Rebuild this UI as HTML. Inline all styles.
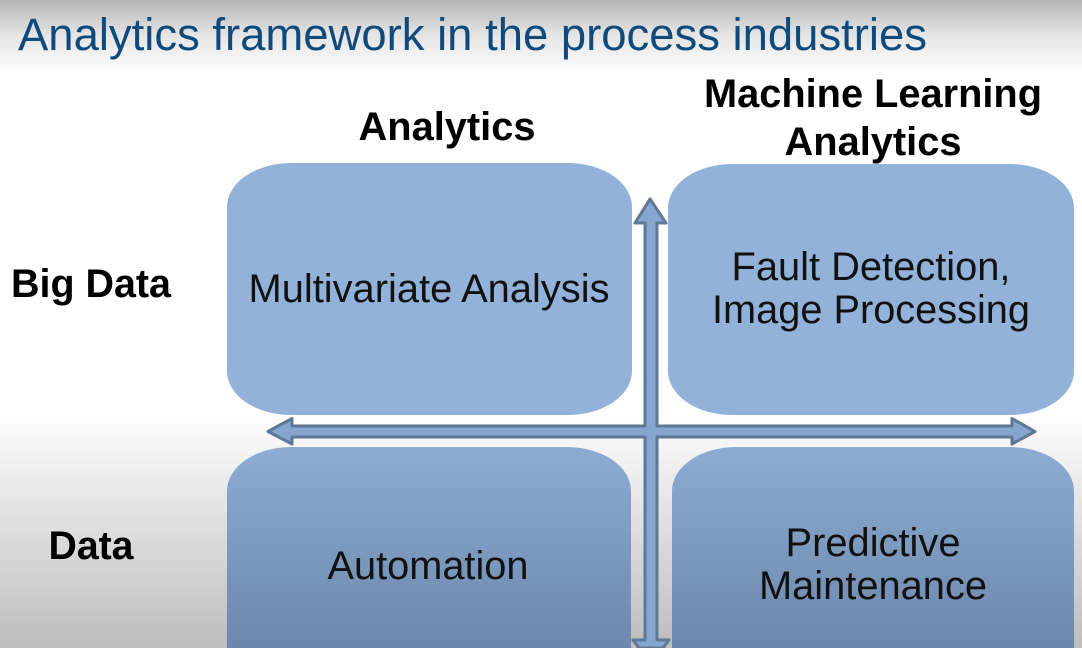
<!DOCTYPE html>
<html><head><meta charset="utf-8"><style>
html,body{margin:0;padding:0;width:1082px;height:648px;overflow:hidden;background:#fff}
svg{display:block}
text{font-family:"Liberation Sans",sans-serif}
</style></head><body>
<svg width="1082" height="648" viewBox="0 0 1082 648" xmlns="http://www.w3.org/2000/svg">
<defs>
<linearGradient id="top" x1="0" y1="0" x2="0" y2="1"><stop offset="0" stop-color="#b4b4b4"/><stop offset="0.45" stop-color="#e4e4e4"/><stop offset="1" stop-color="#fff"/></linearGradient>
<linearGradient id="bot" x1="0" y1="0" x2="0" y2="1"><stop offset="0" stop-color="#fff"/><stop offset="1" stop-color="#bdbdbd"/></linearGradient>
<linearGradient id="low" gradientUnits="userSpaceOnUse" x1="0" y1="447" x2="0" y2="648"><stop offset="0" stop-color="#8dacd4"/><stop offset="1" stop-color="#6c87aa"/></linearGradient>
</defs>
<rect width="1082" height="648" fill="#fff"/>
<rect width="1082" height="75" fill="url(#top)"/>
<rect y="410" width="1082" height="238" fill="url(#bot)"/>
<text x="18" y="50" font-size="45.5" fill="#0f4a7d" textLength="909" lengthAdjust="spacingAndGlyphs">Analytics framework in the process industries</text>
<rect x="227" y="163" width="405" height="252" rx="64" ry="44" fill="#92b2da"/>
<rect x="668" y="164" width="406" height="251" rx="64" ry="44" fill="#92b2da"/>
<path d="M227 648 V491 A64 44 0 0 1 291 447 H567 A64 44 0 0 1 631 491 V648 Z" fill="url(#low)"/>
<path d="M672 648 V491 A64 44 0 0 1 736 447 H1010 A64 44 0 0 1 1074 491 V648 Z" fill="url(#low)"/>
<path d="M650 199 L666 223 L657 223 L657 426 L1012 426 L1012 418.500 L1035 431.500 L1012 444 L1012 437 L657 437 L657 640 L669 640 L663 648 L639 648 L633 640 L645 640 L645 437 L292 437 L292 444 L268 431.500 L292 418.500 L292 426 L645 426 L645 223 L635 223 Z" fill="#86a6d0" stroke="#5f7896" stroke-width="3" stroke-linejoin="round"/>
<g font-size="40" fill="#111" text-anchor="middle">
<text x="429" y="302" textLength="361" lengthAdjust="spacingAndGlyphs">Multivariate Analysis</text>
<text x="871" y="280" textLength="279" lengthAdjust="spacingAndGlyphs">Fault Detection,</text>
<text x="871" y="323" textLength="318" lengthAdjust="spacingAndGlyphs">Image Processing</text>
<text x="428" y="579" textLength="201" lengthAdjust="spacingAndGlyphs">Automation</text>
<text x="873" y="556" textLength="175" lengthAdjust="spacingAndGlyphs">Predictive</text>
<text x="873" y="599" textLength="228" lengthAdjust="spacingAndGlyphs">Maintenance</text>
</g>
<g font-size="40" font-weight="700" fill="#000" text-anchor="middle">
<text x="447" y="140" textLength="177" lengthAdjust="spacingAndGlyphs">Analytics</text>
<text x="873" y="107" textLength="338" lengthAdjust="spacingAndGlyphs">Machine Learning</text>
<text x="873" y="155" textLength="177" lengthAdjust="spacingAndGlyphs">Analytics</text>
<text x="91" y="297" textLength="160" lengthAdjust="spacingAndGlyphs">Big Data</text>
<text x="91" y="559" textLength="85" lengthAdjust="spacingAndGlyphs">Data</text>
</g>
</svg>
</body></html>
